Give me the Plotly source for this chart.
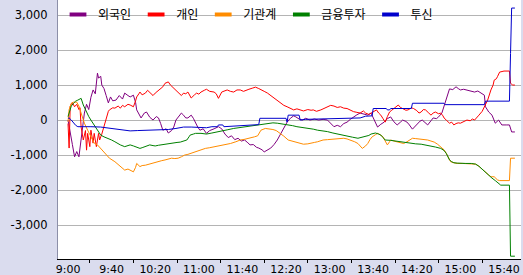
import plotly.graph_objects as go

# ---------------- data (minutes after 09:00, value) ----------------
series_names = ["외국인", "개인", "기관계", "금융투자", "투신"]
series_colors = ["#800080", "#ff0000", "#ff8c00", "#008000", "#0000cc"]

foreign_t = [0, 2, 4, 6, 8, 10, 12, 13, 15, 17, 19, 21, 23, 25, 27, 28, 30, 31, 33, 35, 37, 39, 41, 44, 47, 50,
             52, 55, 57, 60, 62, 63, 65, 67, 70, 72, 75, 78, 81, 83, 85, 87, 90, 92, 95, 97, 99, 101, 104, 106,
             108, 110, 113, 115, 117, 119, 121, 124, 127, 130, 134, 138, 141, 144, 147, 150, 153, 156, 159, 162,
             165, 167, 170, 173, 175, 178, 180, 183, 186, 189, 192, 195, 197, 199, 201, 204, 207, 209, 212, 215,
             218, 222, 226, 230, 234, 238, 241, 244, 247, 250, 253, 256, 259, 262, 265, 268, 271, 275, 278, 281,
             284, 287, 290, 293, 296, 299, 302, 305, 307, 310, 312, 316, 319, 321, 323, 325, 328, 330, 333, 335,
             338, 340, 343, 345, 347, 350, 353, 356, 358, 360, 363, 366, 369, 373, 376, 379, 382, 383, 386, 389,
             392, 395, 398, 402, 405, 407, 410]
foreign_v = [0, -300, -700, -1050, -900, -1050, -600, -290, 200, 450, 300, 650, 860, 750, 1340, 1200, 1250, 1000,
             900, 700, 490, 660, 550, 570, 700, 600, 770, 700, 660, 710, 500, 290, 150, 60, 200, 230, 80, 0, 100,
             60, -100, -290, -250, -370, -300, -200, 0, 90, 200, 140, 60, 60, 140, 50, -90, -200, -290, -250, -380,
             -300, -250, -190, -250, -400, -500, -450, -560, -520, -600, -570, -650, -710, -700, -780, -800, -850,
             -910, -860, -800, -700, -570, -400, -290, -150, -60, 50, 120, 90, 30, 0, 50, 0, 30, 0, 20, 0, -90,
             -190, -150, -190, -100, -60, 20, 90, 150, 200, 170, 140, 200, 0, -200, -120, -60, 40, 90, -50, -140,
             -60, 0, -40, -90, -260, -150, -90, -30, 0, -80, -140, -20, 60, 40, 90, 200, 380, 600, 890, 870, 950,
             900, 860, 880, 860, 820, 800, 830, 770, 710, 380, 230, 140, -90, 0, -140, -140, -140, -340, -340]

indiv_t = [0, 1, 2, 4, 6, 8, 10, 11, 12, 14, 16, 17, 18, 20, 21, 23, 24, 26, 28, 29, 31, 32, 34, 35, 37, 38, 41,
           43, 46, 48, 50, 52, 55, 57, 60, 62, 63, 65, 66, 68, 71, 73, 75, 78, 80, 83, 85, 87, 89, 92, 94, 97, 99,
           101, 104, 106, 108, 110, 112, 113, 116, 118, 120, 122, 125, 127, 130, 134, 136, 138, 141, 144, 146, 149,
           152, 155, 158, 161, 164, 166, 169, 172, 175, 177, 180, 183, 186, 189, 192, 195, 198, 201, 204, 207,
           210, 213, 216, 220, 223, 225, 228, 232, 235, 238, 241, 244, 247, 250, 253, 256, 259, 262, 265, 268,
           271, 273, 276, 280, 283, 285, 287, 289, 291, 293, 295, 297, 299, 301, 303, 305, 307, 310, 312, 315,
           317, 320, 322, 324, 326, 328, 331, 333, 335, 337, 340, 342, 344, 345, 347, 350, 352, 354, 356, 358,
           360, 363, 366, 369, 371, 373, 375, 377, 380, 382, 385, 388, 390, 391, 393, 394, 396, 400, 405, 406,
           408, 410]
indiv_v = [-100, -800, 400, 500, 380, 450, 300, 350, -200, -570, -300, -860, -380, -760, -290, -660, -380, -760,
           -380, -570, -400, -290, -90, 90, 250, 290, 350, 340, 400, 340, 420, 380, 450, 430, 380, 550, 660, 750,
           800, 720, 770, 850, 800, 700, 770, 850, 910, 950, 1050, 1090, 1000, 910, 850, 800, 700, 770, 750, 800,
           700, 630, 720, 770, 740, 800, 850, 880, 820, 800, 750, 620, 800, 830, 860, 820, 800, 860, 860, 820,
           870, 880, 910, 940, 900, 860, 820, 770, 700, 620, 550, 480, 420, 380, 330, 290, 320, 290, 260, 300,
           280, 290, 250, 290, 330, 380, 420, 400, 360, 380, 340, 330, 280, 240, 220, 200, 260, 200, 160, 230,
           290, 200, 140, 40, -60, 100, 230, 280, 330, 380, 430, 360, 330, 280, 290, 350, 330, 270, 200, 230,
           300, 290, 200, 140, 200, 230, 180, 200, 120, 60, 0, -90, -60, -140, -100, -80, -90, -40, 0, -20, 30,
           0, 60, 140, 250, 380, 570, 860, 1000, 1140, 1180, 1240, 1370, 1400, 1400, 1050, 1000, 1000]

inst_t = [0, 1, 3, 5, 8, 10, 12, 15, 18, 21, 24, 27, 30, 34, 38, 43, 48, 52, 55, 57, 60, 62, 63, 66, 68, 71, 74,
          76, 80, 83, 86, 89, 92, 95, 98, 101, 104, 107, 110, 113, 116, 120, 123, 126, 130, 135, 140, 145, 149,
          154, 158, 162, 167, 171, 174, 176, 177, 181, 185, 188, 191, 193, 196, 198, 202, 205, 209, 212, 216,
          220, 223, 226, 229, 234, 238, 241, 244, 247, 250, 253, 256, 259, 263, 266, 270, 273, 275, 277, 279,
          282, 284, 287, 289, 291, 293, 295, 296, 299, 302, 305, 308, 311, 314, 316, 319, 322, 326, 330, 333,
          336, 339, 342, 345, 347, 349, 351, 354, 357, 362, 366, 370, 374, 377, 379, 382, 384, 386, 388, 391,
          394, 396, 405, 405.5, 406, 410]
inst_v = [-50, 300, 480, 510, 510, 400, 200, -90, -290, -480, -660, -710, -810, -950, -1090, -1190, -1330, -1430,
          -1400, -1430, -1480, -1350, -1240, -1330, -1300, -1290, -1260, -1240, -1220, -1190, -1160, -1140,
          -1120, -1090, -1100, -1090, -1050, -1000, -980, -950, -900, -860, -840, -810, -790, -760, -710, -690,
          -670, -620, -570, -550, -520, -480, -450, -350, -290, -240, -250, -270, -300, -340, -400, -460, -570,
          -600, -620, -650, -690, -680, -670, -640, -620, -570, -560, -550, -530, -520, -510, -520, -540, -570,
          -620, -670, -810, -740, -670, -560, -480, -420, -380, -430, -480, -600, -710, -620, -570, -600, -620,
          -640, -670, -620, -570, -520, -530, -540, -550, -570, -600, -630, -690, -760, -850, -950, -1080, -1190,
          -1220, -1240, -1240, -1240, -1250, -1260, -1320, -1380, -1450, -1520, -1570, -1620, -1620, -1710,
          -1730, -1730, -1240, -1090, -1090]

fin_t = [0, 1, 3, 5, 7, 9, 11, 12, 14, 17, 19, 21, 23, 26, 28, 30, 33, 37, 40, 43, 46, 48, 52, 55, 57, 60, 62, 64,
         66, 68, 71, 73, 75, 78, 80, 83, 85, 88, 90, 94, 97, 100, 103, 106, 109, 111, 112, 115, 117, 122, 127,
         132, 136, 140, 146, 152, 158, 164, 170, 175, 180, 183, 188, 192, 197, 201, 206, 210, 215, 220, 225,
         229, 234, 238, 243, 247, 252, 256, 261, 266, 269, 271, 273, 276, 278, 280, 282, 285, 287, 289, 291,
         296, 300, 305, 310, 314, 319, 324, 328, 333, 337, 342, 345, 347, 349, 350, 352, 354, 357, 360, 365,
         370, 374, 377, 379, 382, 384, 387, 389, 392, 394, 397, 405, 405.5, 406, 410]
fin_v = [100, 230, 400, 480, 540, 570, 600, 620, 430, 200, 100, 0, -100, -240, -340, -430, -480, -520, -570, -620,
         -680, -710, -760, -740, -710, -740, -760, -790, -810, -790, -760, -740, -710, -730, -740, -720, -710,
         -690, -670, -650, -640, -640, -630, -600, -570, -480, -430, -400, -380, -380, -400, -370, -350, -310,
         -280, -240, -210, -190, -160, -140, -110, -90, -80, -90, -110, -140, -160, -190, -210, -240, -260,
         -290, -310, -330, -370, -400, -430, -460, -490, -520, -500, -480, -470, -440, -400, -380, -370, -400,
         -430, -500, -570, -580, -600, -620, -640, -670, -680, -690, -710, -740, -770, -810, -870, -950, -1050,
         -1140, -1190, -1220, -1230, -1240, -1240, -1240, -1260, -1320, -1380, -1450, -1520, -1600, -1660,
         -1730, -1790, -1860, -1860, -2910, -3890, -3890]

trust_t = [0, 1, 3, 5, 7, 9, 15, 21, 30, 39, 48, 57, 64, 74, 83, 92, 99, 106, 113, 122, 127, 132, 137, 138, 142,
           143, 152, 164, 175, 176, 200, 201, 202, 212, 213, 218, 240, 268, 273, 279, 280, 292, 293, 295, 296,
           315, 316, 345, 346, 382, 383, 405, 406, 407, 410]
trust_v = [50, 60, 0, -90, -150, -190, -200, -190, -200, -240, -290, -310, -300, -290, -270, -270, -240, -200,
           -200, -200, -220, -190, -190, -140, -140, -190, -170, -140, -130, 50, 50, -60, 140, 140, 0, 20, 30, 60,
           110, 120, 330, 330, 290, 290, 330, 330, 480, 480, 440, 440, 540, 540, 1900, 3200, 3200]

x_tick_vals = [0, 40, 80, 120, 160, 200, 240, 280, 320, 360, 400]
x_tick_text = ["9:00", "9:40", "10:20", "11:00", "11:40", "12:20", "13:00", "13:40", "14:20", "15:00", "15:40"]
y_tick_vals = [-3000, -2000, -1000, 0, 1000, 2000, 3000]
y_tick_text = ["-3,000", "-2,000", "-1,000", "0", "1,000", "2,000", "3,000"]

# ---------------- figure ----------------
all_t = [foreign_t, indiv_t, inst_t, fin_t, trust_t]
all_v = [foreign_v, indiv_v, inst_v, fin_v, trust_v]

fig = go.Figure()
for name, color, t, v in zip(series_names, series_colors, all_t, all_v):
    fig.add_trace(go.Scatter(x=t, y=v, mode="lines", name=name, showlegend=False,
                             line=dict(color=color, width=1)))
# legend swatches (short thick bars)
for name, color in zip(series_names, series_colors):
    fig.add_trace(go.Scatter(x=[None], y=[None], mode="markers", name=name,
                             marker=dict(symbol="line-ew", size=12,
                                         line=dict(color=color, width=4))))

fig.update_layout(
    width=523, height=275,
    margin=dict(l=58, r=2, t=0, b=16),
    paper_bgcolor="#dadcee",
    plot_bgcolor="#ffffff",
    showlegend=True,
    legend=dict(orientation="h", x=0, xanchor="left", y=1.0, yanchor="top",
                bgcolor="rgba(0,0,0,0)", borderwidth=0,
                font=dict(family="Noto Sans CJK KR", size=12, color="#000000"),
                itemclick=False, itemdoubleclick=False),
    xaxis=dict(range=[-9.2, 415.6], tickmode="array", tickvals=x_tick_vals, ticktext=x_tick_text,
               showgrid=False, zeroline=False, showline=True, linecolor="#000000", linewidth=1,
               ticks="", tickfont=dict(family="DejaVu Sans", size=11, color="#000000"),
               minor=dict(tickmode="array", tickvals=[20, 60, 100, 140, 180, 220, 260, 300, 340, 380],
                          ticks="outside", ticklen=3, tickcolor="#000000", showgrid=False),
               fixedrange=True),
    yaxis=dict(range=[-3970, 3430], tickmode="array", tickvals=y_tick_vals, ticktext=y_tick_text,
               showgrid=True, gridcolor="#b4b4b4", gridwidth=1, zeroline=False,
               showline=True, linecolor="#8c8fa8", linewidth=1, ticks="",
               ticklabelstandoff=7,
               tickfont=dict(family="DejaVu Sans", size=11.5, color="#000000"),
               fixedrange=True),
)

fig.write_html("out.html", config={"displayModeBar": False})
